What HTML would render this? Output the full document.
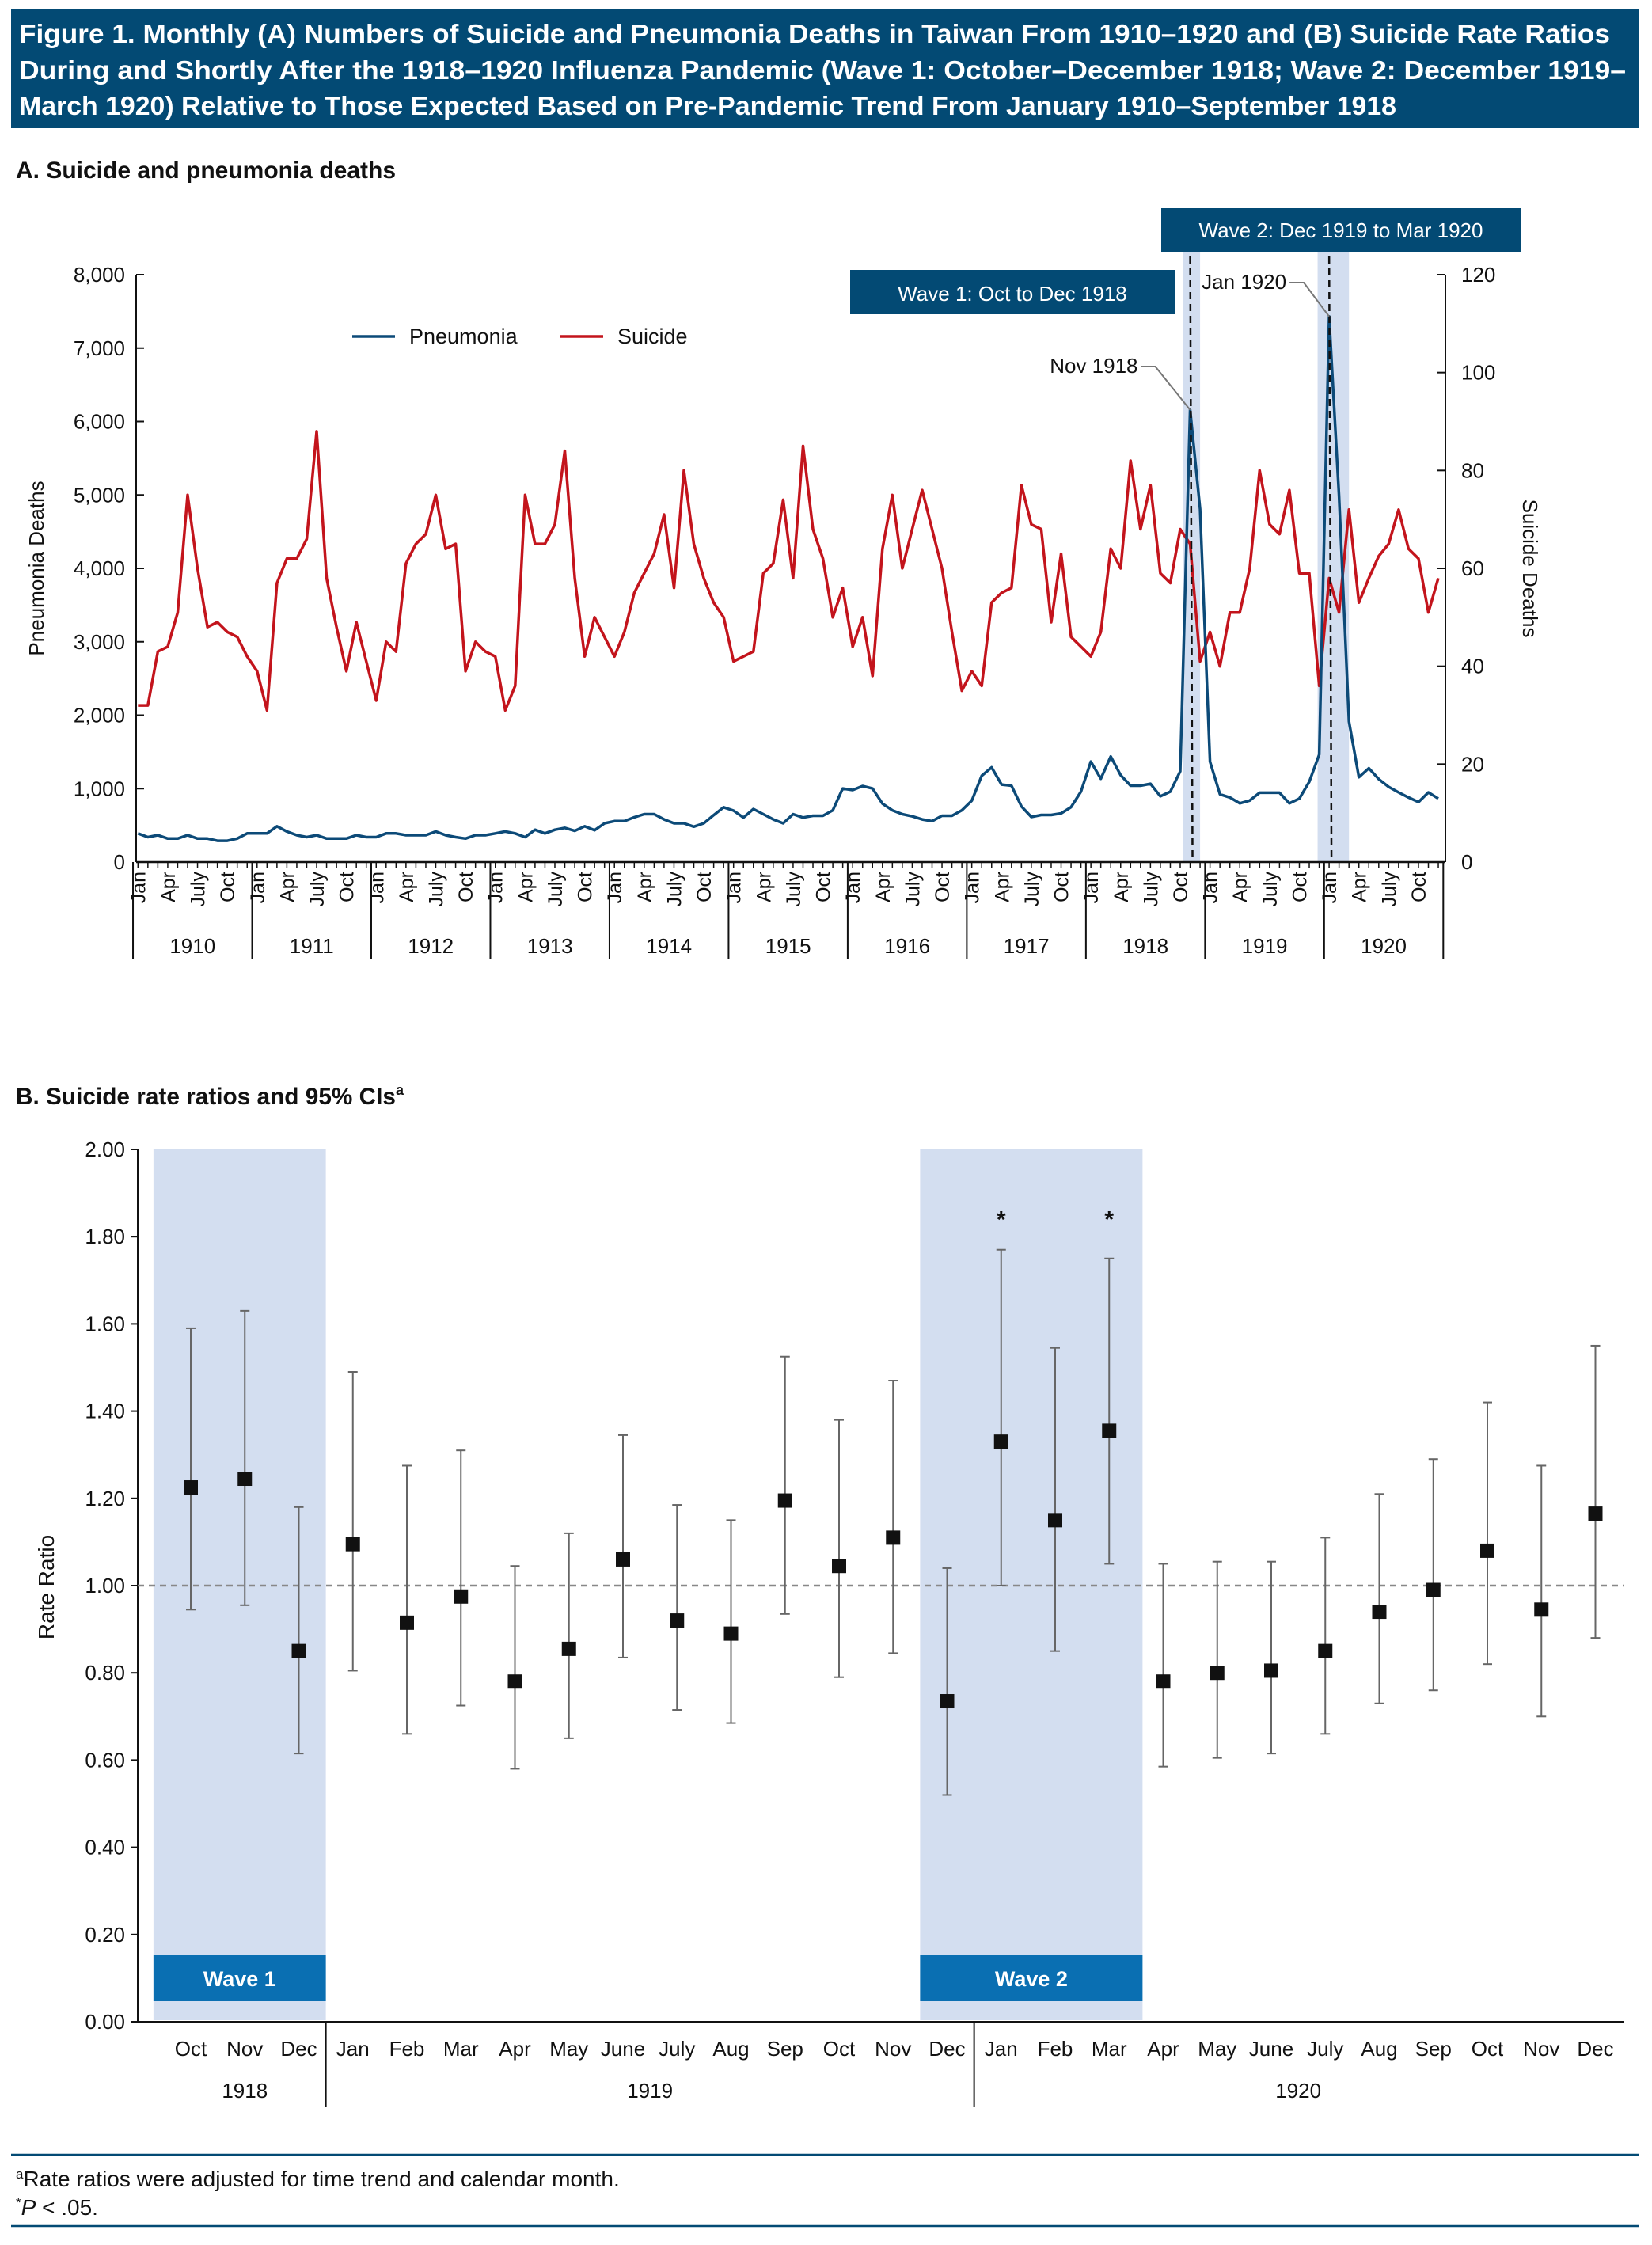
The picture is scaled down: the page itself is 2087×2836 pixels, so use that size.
<!DOCTYPE html>
<html><head><meta charset="utf-8"><style>
body{margin:0;background:#fff;width:2087px;height:2836px;overflow:hidden;font-family:"Liberation Sans",sans-serif;}
svg{position:absolute;left:0;top:0}
</style></head><body>
<svg id="fig" width="2087" height="2836" xmlns="http://www.w3.org/2000/svg" font-family="Liberation Sans, sans-serif">
<rect x="14" y="12" width="2056" height="150" fill="#034a74"/>
<g fill="#fff" font-size="33" font-weight="bold">
<text x="24" y="54" textLength="2010" lengthAdjust="spacingAndGlyphs">Figure 1. Monthly (A) Numbers of Suicide and Pneumonia Deaths in Taiwan From 1910–1920 and (B) Suicide Rate Ratios</text>
<text x="24" y="100" textLength="2030" lengthAdjust="spacingAndGlyphs">During and Shortly After the 1918–1920 Influenza Pandemic (Wave 1: October–December 1918; Wave 2: December 1919–</text>
<text x="24" y="145" textLength="1740" lengthAdjust="spacingAndGlyphs">March 1920) Relative to Those Expected Based on Pre-Pandemic Trend From January 1910–September 1918</text>
</g>
<text x="20" y="225" font-size="30" font-weight="bold" fill="#111" textLength="480" lengthAdjust="spacingAndGlyphs">A. Suicide and pneumonia deaths</text>
<text x="20" y="1395" font-size="30" font-weight="bold" fill="#111"><tspan textLength="480" lengthAdjust="spacingAndGlyphs">B. Suicide rate ratios and 95% CIs</tspan><tspan font-size="18" dy="-12">a</tspan></text>
<g id="chartA"></g>
<g id="chartB"></g>
<line x1="14" y1="2722" x2="2070" y2="2722" stroke="#034a74" stroke-width="2.5"/>
<text x="20" y="2762" font-size="28" fill="#111"><tspan font-size="17" dy="-10">a</tspan><tspan dy="10">Rate ratios were adjusted for time trend and calendar month.</tspan></text>
<text x="20" y="2798" font-size="28" fill="#111"><tspan font-size="17" dy="-10">*</tspan><tspan dy="10" font-style="italic">P</tspan><tspan> &lt; .05.</tspan></text>
<line x1="14" y1="2812" x2="2070" y2="2812" stroke="#034a74" stroke-width="2.5"/>
</svg>
<script>
// ---------- Chart A data ----------
const years = [1910,1911,1912,1913,1914,1915,1916,1917,1918,1919,1920];
const quarterLabels = ["Jan","Apr","July","Oct"];
const leftTicks = [0,1000,2000,3000,4000,5000,6000,7000,8000];
const rightTicks = [0,20,40,60,80,100,120];
const suicide = [32,32,43,44,51,75,60,48,49,47,46,42,
 39,31,57,62,62,66,88,58,48,39,49,41,
 33,45,43,61,65,67,75,64,65,39,45,43,
 42,31,36,75,65,65,69,84,58,42,50,46,
 42,47,55,59,63,71,56,80,65,58,53,50,
 41,42,43,59,61,74,58,85,68,62,50,56,
 44,50,38,64,75,60,68,76,68,60,47,35,
 39,36,53,55,56,77,69,68,49,63,46,44,
 42,47,64,60,82,68,77,59,57,68,65,41,
 47,40,51,51,60,80,69,67,76,59,59,36,
 58,51,72,53,58,62.5,65,72,64,62,51,58];
const pneumonia = [390,340,367,320,320,367,320,320,290,290,320,390,
 390,390,487,416,367,340,367,320,320,320,367,340,
 340,390,390,367,367,367,416,367,340,320,367,367,
 390,416,390,340,440,390,440,466,425,487,433,528,
 557,557,610,652,652,581,528,528,482,528,639,746,
 701,606,722,652,581,528,652,606,631,631,705,1002,
 981,1035,1002,796,705,652,623,581,557,631,631,705,
 837,1175,1290,1056,1040,758,615,642,642,663,748,960,
 1368,1135,1437,1183,1040,1040,1066,896,960,1236,6158,4805,
 1368,923,880,800,838,944,944,944,800,865,1093,1464,
 7431,4991,1915,1156,1278,1130,1024,949,880,817,949,865];
const waveMonthsA = [[105,107],[119,122]];
const annotMonths = [106,120];
const annotText = ["Nov 1918","Jan 1920"];

// ---------- Chart B data ----------
const bMonths = ["Oct","Nov","Dec","Jan","Feb","Mar","Apr","May","June","July","Aug","Sep","Oct","Nov","Dec","Jan","Feb","Mar","Apr","May","June","July","Aug","Sep","Oct","Nov","Dec"];
const rr = [1.225,1.245,0.85,1.095,0.915,0.975,0.78,0.855,1.06,0.92,0.89,1.195,1.045,1.11,0.735,1.33,1.15,1.355,0.78,0.80,0.805,0.85,0.94,0.99,1.08,0.945,1.165];
const rrLow = [0.945,0.955,0.615,0.805,0.66,0.725,0.58,0.65,0.835,0.715,0.685,0.935,0.79,0.845,0.52,1.0,0.85,1.05,0.585,0.605,0.615,0.66,0.73,0.76,0.82,0.70,0.88];
const rrHigh = [1.59,1.63,1.18,1.49,1.275,1.31,1.045,1.12,1.345,1.185,1.15,1.525,1.38,1.47,1.04,1.77,1.545,1.75,1.05,1.055,1.055,1.11,1.21,1.29,1.42,1.275,1.55];
const signif = [15,17];
const bYears = ["1918","1919","1920"];
const bYearSpans = [[0,2],[3,14],[15,26]];
const bTicks = [0,0.2,0.4,0.6,0.8,1.0,1.2,1.4,1.6,1.8,2.0];
const bWaves = [[0,2,"Wave 1"],[14,17,"Wave 2"]];

const NS="http://www.w3.org/2000/svg";
function mk(parent,tag,attrs,text){const e=document.createElementNS(NS,tag);for(const k in attrs)e.setAttribute(k,attrs[k]);if(text!==undefined)e.textContent=text;parent.appendChild(e);return e;}

// ---- Chart A ----
(function(){
const g=document.getElementById('chartA');
const X0=172,X1=1826,Y0=1089,Y1=347,M0=174.3,MS=12.54;
const xm=i=>M0+MS*i;
const yl=v=>Y0-(v/8000)*(Y0-Y1);
const yr=v=>Y0-(v/120)*(Y0-Y1);
waveMonthsA.forEach((w,k)=>{
 const r=mk(g,'rect',{x:xm(w[0])+(k?-2:4),y:309,width:(w[1]-w[0])*MS-(k?-2:4),height:Y0-309,fill:'#d3def0'});
 
 
});
mk(g,'line',{x1:X0,y1:Y1,x2:X0,y2:Y0,stroke:'#111','stroke-width':2});
mk(g,'line',{x1:X1,y1:Y1,x2:X1,y2:Y0,stroke:'#111','stroke-width':2});
mk(g,'line',{x1:X0,y1:Y0,x2:X1,y2:Y0,stroke:'#111','stroke-width':2.5});
leftTicks.forEach(v=>{
 mk(g,'line',{x1:X0,y1:yl(v),x2:X0+10,y2:yl(v),stroke:'#111','stroke-width':2});
 const t=mk(g,'text',{x:X0-14,y:yl(v)+9,'text-anchor':'end','font-size':26,fill:'#111'},v.toLocaleString('en-US'));
 
 
});
rightTicks.forEach(v=>{
 mk(g,'line',{x1:X1-10,y1:yr(v),x2:X1,y2:yr(v),stroke:'#111','stroke-width':2});
 const t=mk(g,'text',{x:X1+20,y:yr(v)+9,'font-size':26,fill:'#111'},String(v));
 
 
});
for(let i=0;i<suicide.length;i++){
 mk(g,'line',{x1:xm(i),y1:Y0,x2:xm(i),y2:Y0+8,stroke:'#111','stroke-width':1.5});
 if(i%3===0){
  const t=mk(g,'text',{transform:`translate(${xm(i)+9},${Y0+12}) rotate(-90)`,'text-anchor':'end','font-size':25,fill:'#111'},quarterLabels[(i%12)/3]);
  
  
 }
}
for(let k=0;k<=years.length;k++){
 const x=M0+MS*(12*k-0.5);
 mk(g,'line',{x1:x,y1:Y0,x2:x,y2:1212,stroke:'#111','stroke-width':2});
 if(k<years.length){
  const t=mk(g,'text',{x:x+6*MS,y:1204,'text-anchor':'middle','font-size':26,fill:'#111'},String(years[k]));
  
  
 }
}
const sp=suicide.map((v,i)=>xm(i).toFixed(1)+','+yr(v).toFixed(1)).join(' ');
const sl=mk(g,'polyline',{points:sp,fill:'none',stroke:'#c3141c','stroke-width':3.5,'stroke-linejoin':'round'});


const pp=pneumonia.map((v,i)=>xm(i).toFixed(1)+','+yl(v).toFixed(1)).join(' ');
const pl=mk(g,'polyline',{points:pp,fill:'none',stroke:'#0c4a78','stroke-width':3.5,'stroke-linejoin':'round'});


annotMonths.forEach((m,k)=>{
 const x=xm(m);
 mk(g,'line',{x1:x,y1:309,x2:x+3,y2:Y0,stroke:'#111','stroke-width':2.5,'stroke-dasharray':'9,6'});
 const py=yl(pneumonia[m]);
 const tx=k?x-50:x-62, ty=k?365:471;
 mk(g,'polyline',{points:`${tx},${ty-8} ${tx+18},${ty-8} ${x},${py}`,fill:'none',stroke:'#777','stroke-width':2});
 const t=mk(g,'text',{x:tx-4,y:ty,'text-anchor':'end','font-size':26,fill:'#111'},annotText[k]);
 
 
});
const b2=mk(g,'rect',{x:1467,y:263,width:455,height:55,fill:'#034a74'});


mk(g,'text',{x:1694,y:300,'text-anchor':'middle','font-size':26,fill:'#fff'},'Wave 2: Dec 1919 to Mar  1920');
const b1=mk(g,'rect',{x:1074,y:341,width:411,height:56,fill:'#034a74'});


mk(g,'text',{x:1279,y:380,'text-anchor':'middle','font-size':26,fill:'#fff'},'Wave 1: Oct to Dec 1918');
mk(g,'line',{x1:445,y1:425,x2:499,y2:425,stroke:'#0c4a78','stroke-width':3.5});
const l1=mk(g,'text',{x:517,y:434,'font-size':27,fill:'#111'},'Pneumonia');


mk(g,'line',{x1:708,y1:425,x2:762,y2:425,stroke:'#c3141c','stroke-width':3.5});
const l2=mk(g,'text',{x:780,y:434,'font-size':27,fill:'#111'},'Suicide');


const ya=mk(g,'text',{transform:'translate(55,718) rotate(-90)','text-anchor':'middle','font-size':26,fill:'#111'},'Pneumonia Deaths');


const yb=mk(g,'text',{transform:'translate(1924,718) rotate(90)','text-anchor':'middle','font-size':26,fill:'#111'},'Suicide Deaths');


})();

// ---- Chart B ----
(function(){
const g=document.getElementById('chartB');
const X0=174,X1=2051,Y0=2554,Y1=1452,C0=241,CS=68.25;
const xc=i=>C0+CS*i;
const y=v=>Y0-(v/2)*(Y0-Y1);
bWaves.forEach((w,k)=>{
 const xa=xc(w[0])-CS*0.5-(k?0:13), xb=xc(w[1])+CS*0.5+(k?8:0);
 const r=mk(g,'rect',{x:xa,y:Y1,width:xb-xa,height:Y0-Y1-2,fill:'#d3def0'});
 
 
 const bx=mk(g,'rect',{x:xa,y:2470,width:xb-xa,height:58,fill:'#0a6fb2'});
 
 
 mk(g,'text',{x:(xa+xb)/2,y:2509,'text-anchor':'middle','font-size':27,'font-weight':'bold',fill:'#fff'},w[2]);
});
mk(g,'line',{x1:X0,y1:Y1,x2:X0,y2:Y0,stroke:'#111','stroke-width':2});
mk(g,'line',{x1:X0,y1:Y0,x2:X1,y2:Y0,stroke:'#111','stroke-width':2});
bTicks.forEach(v=>{
 mk(g,'line',{x1:X0-8,y1:y(v),x2:X0,y2:y(v),stroke:'#111','stroke-width':2});
 const t=mk(g,'text',{x:X0-16,y:y(v)+9,'text-anchor':'end','font-size':26,fill:'#111'},v.toFixed(2));
 
 
});
mk(g,'line',{x1:X0,y1:y(1),x2:X1,y2:y(1),stroke:'#888','stroke-width':2.5,'stroke-dasharray':'8,6'});
const yt=mk(g,'text',{transform:'translate(68,2005) rotate(-90)','text-anchor':'middle','font-size':28,fill:'#111'},'Rate  Ratio');


rr.forEach((v,i)=>{
 const x=xc(i);
 mk(g,'line',{x1:x,y1:y(rrLow[i]),x2:x,y2:y(rrHigh[i]),stroke:'#666','stroke-width':2});
 mk(g,'line',{x1:x-6,y1:y(rrLow[i]),x2:x+6,y2:y(rrLow[i]),stroke:'#666','stroke-width':2});
 mk(g,'line',{x1:x-6,y1:y(rrHigh[i]),x2:x+6,y2:y(rrHigh[i]),stroke:'#666','stroke-width':2});
 const p=mk(g,'rect',{x:x-9,y:y(v)-9,width:18,height:18,fill:'#111'});
 
 
 const t=mk(g,'text',{x:x,y:2597,'text-anchor':'middle','font-size':26,fill:'#111'},bMonths[i]);
 
 
});
const starTop=Math.max(...signif.map(i=>rrHigh[i]));
signif.forEach(i=>{
 const s=mk(g,'text',{x:xc(i),y:y(starTop)-28,'text-anchor':'middle','font-size':30,'font-weight':'bold',fill:'#111'},'*');
 
 
});
bYearSpans.forEach((s,k)=>{
 const t=mk(g,'text',{x:(xc(s[0])+xc(s[1]))/2,y:2650,'text-anchor':'middle','font-size':26,fill:'#111'},bYears[k]);
 
 
 if(k>0){const sx=xc(s[0])-CS*0.5;mk(g,'line',{x1:sx,y1:Y0,x2:sx,y2:2662,stroke:'#111','stroke-width':2});}
});
})();
</script>
</body></html>
